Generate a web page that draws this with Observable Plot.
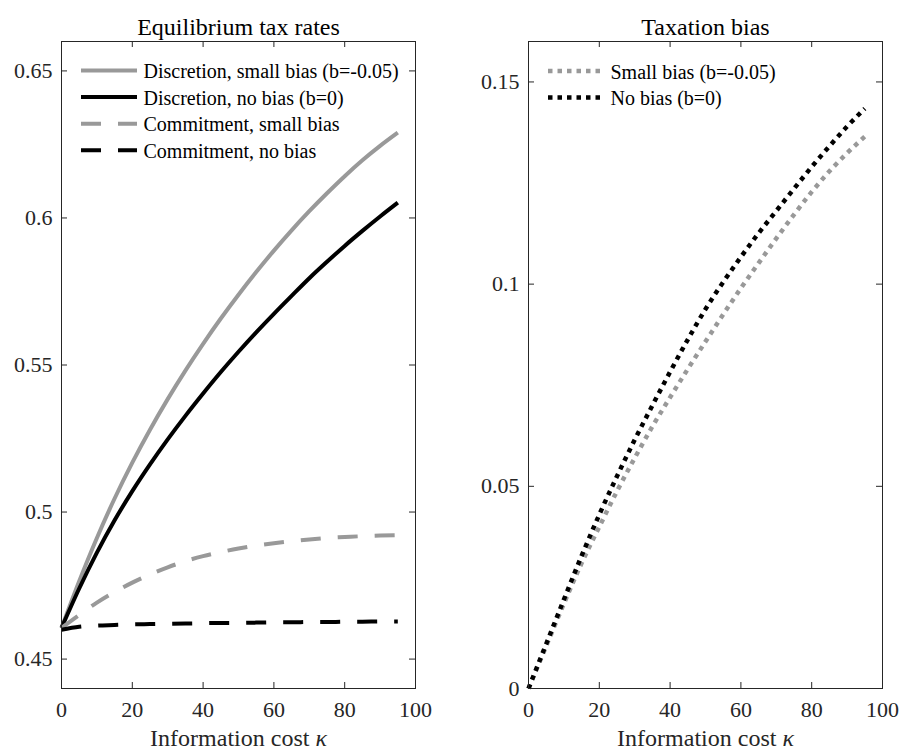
<!DOCTYPE html>
<html><head><meta charset="utf-8">
<script src="https://cdn.jsdelivr.net/npm/d3@7"></script>
<script src="https://cdn.jsdelivr.net/npm/@observablehq/plot@0.6"></script>
<style>
body{margin:0;background:#fff;}
.g{font-family:"Liberation Serif",serif}
#wrap{display:flex;width:902px;height:749px;}
</style></head><body>
<div id="wrap" class="g"></div>
<script>
// ---- data ----
const kappa = [0,5,10,15,20,25,30,35,40,45,50,55,60,65,70,75,80,85,90,95];
const discSmall = [0.4606,0.4765,0.4912,0.5046,0.5168,0.5280,0.5384,0.5481,0.5572,0.5658,0.5739,0.5816,0.5889,0.5958,0.6023,0.6084,0.6142,0.6196,0.6245,0.6290];
const discNone  = [0.4606,0.4740,0.4862,0.4972,0.5071,0.5162,0.5247,0.5327,0.5403,0.5476,0.5545,0.5611,0.5674,0.5735,0.5795,0.5851,0.5905,0.5956,0.6005,0.6052];
const commSmall = [0.4606,0.4650,0.4692,0.4728,0.4760,0.4788,0.4812,0.4833,0.4850,0.4864,0.4876,0.4886,0.4894,0.4901,0.4907,0.4912,0.4915,0.4918,0.4920,0.4921];
const commNone  = [0.4600,0.4610,0.4614,0.4616,0.4618,0.4619,0.4620,0.4621,0.4622,0.4623,0.4623,0.4624,0.4625,0.4625,0.4626,0.4626,0.4627,0.4627,0.4628,0.4628];
const biasSmall = [0,0.0105,0.0210,0.0310,0.0400,0.0488,0.0570,0.0648,0.0720,0.0790,0.0858,0.0925,0.0990,0.1052,0.1113,0.1172,0.1228,0.1279,0.1324,0.1365];
const biasNone  = [0,0.0110,0.0220,0.0328,0.0430,0.0525,0.0615,0.0700,0.0783,0.0863,0.0938,0.1005,0.1067,0.1126,0.1181,0.1236,0.1290,0.1341,0.1390,0.1434];

const xTicks = [0,20,40,60,80,100];
const yTicksLeft = [0.45,0.5,0.55,0.6,0.65];
const yTicksRight = [0,0.05,0.1,0.15];
const titles = ["Equilibrium tax rates","Taxation bias"];
const xLabelText = "Information cost ";
const xLabelSymbol = "κ";
const leftNames = ["Discretion, small bias (b=-0.05)","Discretion, no bias (b=0)","Commitment, small bias","Commitment, no bias"];
const rightNames = ["Small bias (b=-0.05)","No bias (b=0)"];

const FONT = '"Liberation Serif"';

// ---- styles ----
const GRAY = "#999999", INK = "#262626";
const leftStyles = [
  {stroke:GRAY, width:4, dash:null},
  {stroke:"#000", width:4, dash:null},
  {stroke:GRAY, width:4, dash:"20,17"},
  {stroke:"#000", width:4, dash:"20,17"}
];
const rightStyles = [
  {stroke:GRAY, width:4.5, dash:"4.5,5"},
  {stroke:"#000", width:4.5, dash:"4.5,5"}
];
const leftValues = [discSmall, discNone, commSmall, commNone];
const rightValues = [biasSmall, biasNone];

const leftData = leftNames.flatMap((s,i)=>kappa.map((k,j)=>({k, v:leftValues[i][j], s})));
const rightData = rightNames.flatMap((s,i)=>kappa.map((k,j)=>({k, v:rightValues[i][j], s})));

// text measurement for the composite axis label
const ctx = document.createElement("canvas").getContext("2d");
ctx.font = '24px "Liberation Serif", serif';
const w1 = ctx.measureText(xLabelText).width;
ctx.font = 'italic 24px "Liberation Serif", serif';
const w2 = ctx.measureText(xLabelSymbol).width;

const wrap = document.getElementById("wrap");

function panel({title, names, styles, data, yDomain, yTicks, mLeft, mRight, legendY0, legendDy}) {
  const W = 451, H = 749, mTop = 41, mBottom = 61;
  const fw = W - mLeft - mRight, fh = H - mTop - mBottom;
  const tl = 6;
  const txt = {fontFamily: FONT};
  const chart = Plot.plot({
    width: W, height: H,
    marginTop: mTop, marginBottom: mBottom, marginLeft: mLeft, marginRight: mRight,
    x: {domain:[0,100], label:null},
    y: {domain:yDomain, label:null},
    style: {fontFamily: FONT, fontSize:"22px", color: INK},
    marks: [
      ...names.map((s,i)=>Plot.line(data.filter(d=>d.s===s), {
        x:"k", y:"v", stroke: styles[i].stroke, strokeWidth: styles[i].width,
        strokeDasharray: styles[i].dash ?? undefined, curve:"monotone-x",
        strokeLinecap:"butt", strokeLinejoin:"round"
      })),
      Plot.frame({stroke: INK, strokeWidth: 1}),
      Plot.tickX(xTicks, {x:d=>d, insetTop: fh - tl, stroke: INK}),
      Plot.tickX(xTicks, {x:d=>d, insetBottom: fh - tl, stroke: INK}),
      Plot.tickY(yTicks, {y:d=>d, insetRight: fw - tl, stroke: INK}),
      Plot.tickY(yTicks, {y:d=>d, insetLeft: fw - tl, stroke: INK}),
      Plot.axisX({ticks: xTicks, tickSize: 0, tickPadding: 13, fontSize: 22, fontVariant: "normal", tickFormat: d => String(d), ...txt}),
      Plot.axisY({ticks: yTicks, tickSize: 0, tickPadding: 9, fontSize: 22, fontVariant: "normal", tickFormat: d => String(d), ...txt}),
      // title
      Plot.text([title], {text: d=>d, frameAnchor:"top", textAnchor:"middle", lineAnchor:"bottom", dy:-7, fontSize:24, fill:"#000", ...txt}),
      // axis label (two parts, italic symbol)
      Plot.text([xLabelText], {text: d=>d, frameAnchor:"bottom", textAnchor:"start", lineAnchor:"bottom", dx: -(w1+w2)/2, dy:57, fontSize:24, fill:INK, ...txt}),
      Plot.text([xLabelSymbol], {text: d=>d, frameAnchor:"bottom", textAnchor:"start", lineAnchor:"bottom", dx: -(w1+w2)/2 + w1, dy:57, fontSize:24, fontStyle:"italic", fill:INK, ...txt}),
      // legend labels
      ...names.map((n,i)=>Plot.text([n], {text: d=>d, frameAnchor:"top-left", textAnchor:"start", lineAnchor:"bottom",
        dx:82, dy: legendY0 - mTop + 7 + i*legendDy, fontSize:20, fill:"#000", ...txt}))
    ]
  });
  // legend line samples
  const g = d3.select(chart).append("g");
  names.forEach((n,i)=>{
    const y = legendY0 + i*legendDy;
    const ln = g.append("line").attr("x1", mLeft + 20).attr("x2", mLeft + 76).attr("y1", y).attr("y2", y)
      .attr("stroke", styles[i].stroke).attr("stroke-width", styles[i].width);
    if (styles[i].dash) ln.attr("stroke-dasharray", styles[i].dash);
  });
  chart.querySelectorAll("text").forEach(t => { t.style.fontFamily = FONT; });
  wrap.appendChild(chart);
}

panel({title: titles[0], names:leftNames, styles:leftStyles, data:leftData, yDomain:[0.44,0.66], yTicks:yTicksLeft, mLeft:61, mRight:36, legendY0:70.5, legendDy:26.6});
panel({title: titles[1], names:rightNames, styles:rightStyles, data:rightData, yDomain:[0,0.16], yTicks:yTicksRight, mLeft:77, mRight:20, legendY0:71, legendDy:26.5});
</script></body></html>
